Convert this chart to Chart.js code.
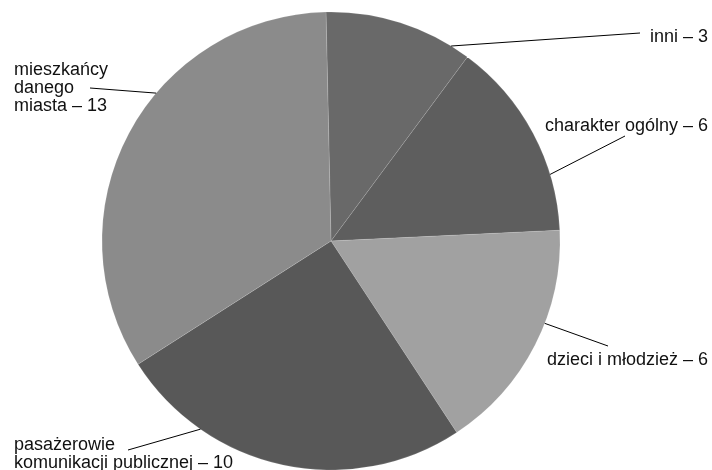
<!DOCTYPE html>
<html>
<head>
<meta charset="utf-8">
<script src="https://cdn.jsdelivr.net/npm/chart.js@4"></script>
<style>
  html, body { margin: 0; padding: 0; background: #fff; }
  #wrap { width: 712px; height: 470px; position: relative; }
</style>
</head>
<body>
<div id="wrap"><canvas id="pie-chart"></canvas></div>
<script>
// categories ("\n" = line break in the label)
const categories = ['inni', 'charakter ogólny', 'dzieci i młodzież', 'pasażerowie\nkomunikacji publicznej', 'mieszkańcy\ndanego\nmiasta'];
// numbers shown in the labels
const counts = [3, 6, 6, 10, 13];
// share of the circle as the slices are drawn in the picture (%)
const sliceShares = [10.5, 14.1, 16.5, 25.2, 33.7];
const sliceColors = ['#696969', '#5e5e5e', '#a1a1a1', '#585858', '#8b8b8b'];

// where each leader line leaves the slice (fraction of the slice's arc)
const leaderAt = [0.87, 0.72, 0.40, 0.75, 0.60];
// leader line end + label anchor
const labelPlaces = [
    {end: [640, 33], x: 708, y: 42, align: 'right'},
    {end: [625, 136], x: 708, y: 131, align: 'right'},
    {end: [608, 346], x: 708, y: 365, align: 'right'},
    {end: [128, 450], x: 14, y: 450, align: 'left'},
    {end: [90, 88], x: 14, y: 75, align: 'left'}
];

const leaderLabels = {
    id: 'leaderLabels',
    afterDraw(chart) {
        const ctx = chart.ctx;
        const arcs = chart.getDatasetMeta(0).data;
        ctx.save();
        ctx.strokeStyle = '#000';
        ctx.lineWidth = 1;
        ctx.fillStyle = '#111';
        ctx.font = '18px "Liberation Sans", Arial, sans-serif';
        ctx.textBaseline = 'alphabetic';
        arcs.forEach((arc, i) => {
            const p = arc.getProps(['x', 'y', 'startAngle', 'endAngle', 'outerRadius'], true);
            const a = p.startAngle + leaderAt[i] * (p.endAngle - p.startAngle);
            const sx = p.x + Math.cos(a) * p.outerRadius;
            const sy = p.y + Math.sin(a) * p.outerRadius;
            const place = labelPlaces[i];
            ctx.beginPath();
            ctx.moveTo(sx, sy);
            ctx.lineTo(place.end[0], place.end[1]);
            ctx.stroke();
            const lines = (categories[i] + ' – ' + counts[i]).split('\n');
            ctx.textAlign = place.align;
            lines.forEach((line, k) => {
                ctx.fillText(line, place.x, place.y + k * 18);
            });
        });
        ctx.restore();
    }
};

new Chart(document.getElementById('pie-chart'), {
    type: 'pie',
    data: {
        labels: categories,
        datasets: [{
            data: sliceShares,
            backgroundColor: sliceColors,
            borderColor: 'rgba(255,255,255,0.12)',
            borderWidth: 1
        }]
    },
    options: {
        responsive: true,
        maintainAspectRatio: false,
        animation: false,
        rotation: -1.25,
        radius: 229,
        layout: {padding: {left: 0, right: 50, top: 12, bottom: 0}},
        plugins: {
            legend: {display: false},
            tooltip: {enabled: false}
        }
    },
    plugins: [leaderLabels]
});
</script>
</body>
</html>
